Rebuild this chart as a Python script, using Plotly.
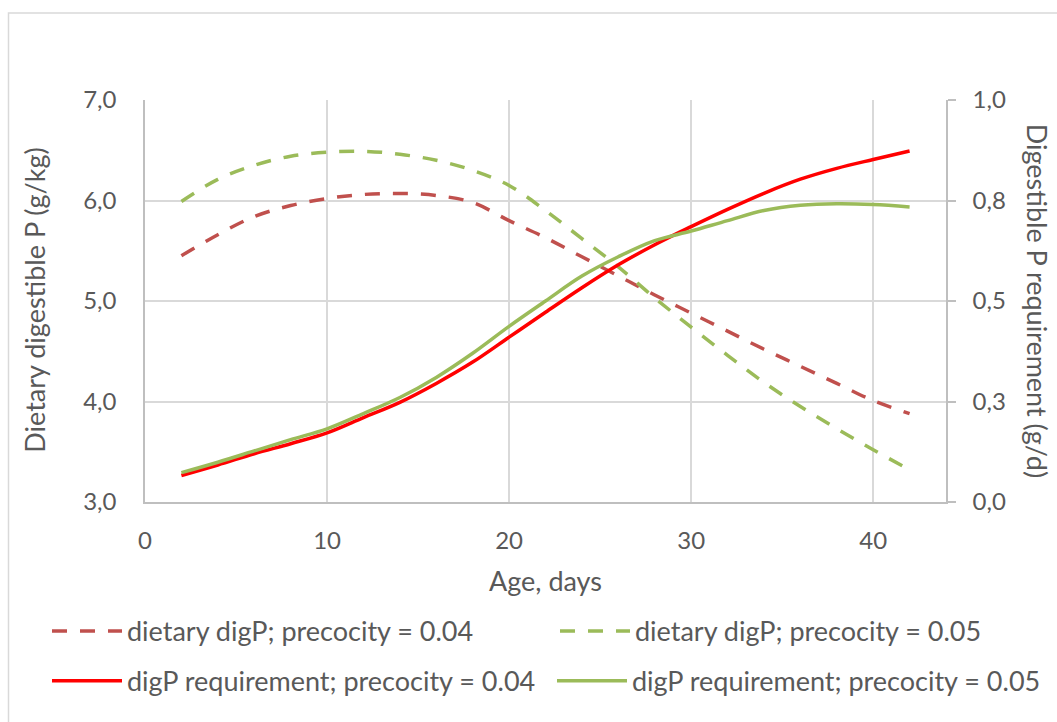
import plotly.graph_objects as go

age = [2, 4, 6, 8, 10, 12, 14, 16, 18, 20, 22, 24, 26, 28, 30, 32, 34, 36, 38, 40, 42]

diet_004 = [5.45, 5.66, 5.84, 5.95, 6.02, 6.06, 6.07, 6.05, 5.98, 5.80, 5.63, 5.44,
            5.25, 5.06, 4.88, 4.70, 4.52, 4.35, 4.18, 4.01, 3.88]
diet_005 = [5.99, 6.21, 6.35, 6.44, 6.48, 6.49, 6.46, 6.40, 6.30, 6.15, 5.90, 5.62,
            5.34, 5.03, 4.74, 4.46, 4.19, 3.95, 3.73, 3.52, 3.32]
req_004 = [0.066, 0.092, 0.120, 0.145, 0.172, 0.210, 0.248, 0.295, 0.348, 0.410, 0.472,
           0.533, 0.590, 0.640, 0.685, 0.728, 0.768, 0.803, 0.830, 0.852, 0.873]
req_005 = [0.073, 0.099, 0.127, 0.155, 0.182, 0.220, 0.260, 0.310, 0.370, 0.437, 0.500,
           0.562, 0.610, 0.650, 0.674, 0.700, 0.725, 0.738, 0.742, 0.740, 0.734]

left_ticks = [3, 4, 5, 6, 7]
left_labels = ["3,0", "4,0", "5,0", "6,0", "7,0"]
right_ticks = [0, 0.25, 0.5, 0.75, 1.0]
right_labels = ["0,0", "0,3", "0,5", "0,8", "1,0"]
x_ticks = [0, 10, 20, 30, 40]

names = ["dietary digP; precocity = 0.04", "dietary digP; precocity = 0.05",
         "digP requirement; precocity = 0.04", "digP requirement; precocity = 0.05"]

FONT = "Lato"
TXT = "#595959"
GRID = "#d9d9d9"
FS_TICK = 24
FS_TITLE = 27
FS_LEG = 27
DASH = "15px,13px"
LW = 3.5

fig = go.Figure()
fig.add_trace(go.Scatter(x=age, y=diet_004, name=names[0], mode="lines",
                         line=dict(color="#c0504d", width=LW, dash=DASH, shape="spline"),
                         legend="legend", showlegend=True))
fig.add_trace(go.Scatter(x=age, y=diet_005, name=names[1], mode="lines",
                         line=dict(color="#9bbb59", width=LW, dash=DASH, shape="spline"),
                         legend="legend2", showlegend=True))
fig.add_trace(go.Scatter(x=age, y=req_004, name=names[2], mode="lines", yaxis="y2",
                         line=dict(color="#ff0000", width=LW, shape="spline"),
                         legend="legend3", showlegend=True))
fig.add_trace(go.Scatter(x=age, y=req_005, name=names[3], mode="lines", yaxis="y2",
                         line=dict(color="#9bbb59", width=LW, shape="spline"),
                         legend="legend4", showlegend=True))

L, R, T, B = 145, 111, 100, 219.5
W, H = 1057, 722
pw, ph = W - L - R, H - T - B

def px(x):
    return (x - L) / pw

def py(y):
    return (H - B - y) / ph

def leg(x, y):
    return dict(x=px(x), y=py(y), xanchor="left", yanchor="middle",
                font=dict(family=FONT, size=FS_LEG, color=TXT),
                bgcolor="rgba(0,0,0,0)", itemwidth=70, visible=True)

fig.update_layout(
    width=W, height=H,
    showlegend=True,
    margin=dict(l=L, r=R, t=T, b=B, autoexpand=False),
    paper_bgcolor="white", plot_bgcolor="white",
    font=dict(family=FONT, size=FS_TICK, color=TXT),
    xaxis=dict(range=[0, 44], tickvals=x_ticks, showgrid=True, gridcolor=GRID, gridwidth=1.5,
               showline=True, linecolor="#bfbfbf", linewidth=1.5, zeroline=False,
               ticks="", ticklabelstandoff=16,
               tickfont=dict(family=FONT, size=FS_TICK, color=TXT),
               title=dict(text="Age, days", standoff=20,
                          font=dict(family=FONT, size=FS_TITLE, color=TXT))),
    yaxis=dict(range=[3, 7], tickvals=left_ticks, ticktext=left_labels, showgrid=True,
               gridcolor=GRID, gridwidth=1.5, showline=True, linecolor="#bfbfbf", linewidth=1.5,
               zeroline=False, ticks="", ticklabelstandoff=22,
               tickfont=dict(family=FONT, size=FS_TICK, color=TXT)),
    yaxis2=dict(range=[0, 1], tickvals=right_ticks, ticktext=right_labels, overlaying="y",
                side="right", showgrid=False, showline=True, linecolor="#bfbfbf", linewidth=1.5,
                zeroline=False, ticks="outside", ticklen=8, tickcolor="#bfbfbf", tickwidth=1.5,
                ticklabelstandoff=12,
                tickfont=dict(family=FONT, size=FS_TICK, color=TXT)),
    legend=leg(47, 632),
    legend2=leg(555, 632),
    legend3=leg(47, 682),
    legend4=leg(552, 682),
    annotations=[
        dict(text="Dietary digestible P (g/kg)", xref="paper", yref="paper",
             x=px(35), y=py(301), xanchor="center", yanchor="middle",
             textangle=-90, showarrow=False,
             font=dict(family=FONT, size=FS_TITLE, color=TXT)),
        dict(text="Digestible P requirement (g/d)", xref="paper", yref="paper",
             x=px(1037), y=py(301), xanchor="center", yanchor="middle",
             textangle=90, showarrow=False,
             font=dict(family=FONT, size=FS_TITLE, color=TXT)),
    ],
    shapes=[
        dict(type="rect", xref="paper", yref="paper", x0=px(8.5), x1=px(1070),
             y0=py(740), y1=py(13), line=dict(color=GRID, width=1.5), layer="below"),
    ],
)

fig.write_html("out.html")
